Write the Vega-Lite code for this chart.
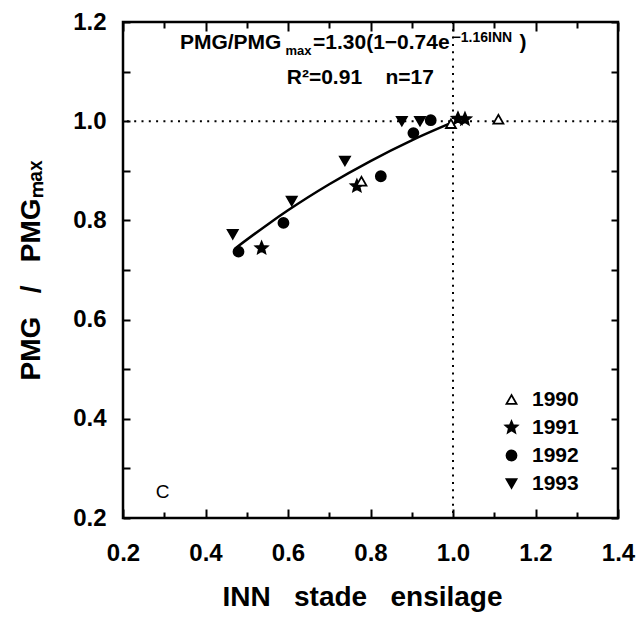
{
  "$schema": "https://vega.github.io/schema/vega-lite/v6.json",
  "width": 495,
  "height": 496,
  "autosize": {"type": "none"},
  "padding": {"left": 123, "top": 22, "right": 19, "bottom": 99},
  "background": "white",
  "config": {
    "view": {"stroke": "black", "strokeWidth": 2.5},
    "font": "Liberation Sans",
    "axis": {
      "domain": false, "grid": false, "ticks": true, "tickColor": "black", "tickWidth": 2,
      "labelColor": "black", "titleColor": "black",
      "labelFont": "Liberation Sans", "labelFontWeight": "bold", "labelFontSize": 24,
      "titleFont": "Liberation Sans", "titleFontWeight": "bold", "titleFontSize": 28,
      "labelFlush": false, "labelOverlap": false
    },
    "text": {"font": "Liberation Sans", "color": "black"}
  },
  "datasets": {
    "pts": [
      {"year": "1990", "inn": 0.995, "pmg": 0.995},
      {"year": "1990", "inn": 1.110, "pmg": 1.004},
      {"year": "1991", "inn": 0.536, "pmg": 0.744},
      {"year": "1991", "inn": 0.767, "pmg": 0.869},
      {"year": "1991", "inn": 1.012, "pmg": 1.005},
      {"year": "1991", "inn": 1.029, "pmg": 1.004},
      {"year": "1992", "inn": 0.480, "pmg": 0.737},
      {"year": "1992", "inn": 0.589, "pmg": 0.795},
      {"year": "1992", "inn": 0.825, "pmg": 0.889},
      {"year": "1992", "inn": 0.904, "pmg": 0.976},
      {"year": "1992", "inn": 0.946, "pmg": 1.002},
      {"year": "1993", "inn": 0.466, "pmg": 0.772},
      {"year": "1993", "inn": 0.609, "pmg": 0.839},
      {"year": "1993", "inn": 0.738, "pmg": 0.920},
      {"year": "1993", "inn": 0.876, "pmg": 1.000},
      {"year": "1993", "inn": 0.920, "pmg": 1.000},
      {"year": "1990", "inn": 0.778, "pmg": 0.879}
    ],
    "fit": [
      {"inn": 0.475, "pmg": 0.7455},
      {"inn": 0.55, "pmg": 0.7914},
      {"inn": 0.6, "pmg": 0.8203},
      {"inn": 0.7, "pmg": 0.8729},
      {"inn": 0.8, "pmg": 0.9197},
      {"inn": 0.9, "pmg": 0.9614},
      {"inn": 1.0, "pmg": 0.998}
    ],
    "hline": [{"v": 1.0}],
    "vline": [{"v": 1.0}],
    "main": [
      {"t": "PMG/PMG", "inn": 0.338, "pmg": 1.145},
      {"t": "=1.30(1−0.74e", "inn": 0.6606, "pmg": 1.145},
      {"t": ")", "inn": 1.161, "pmg": 1.145},
      {"t": "R²=0.91\u00a0\u00a0\u00a0\u00a0n=17", "inn": 0.597, "pmg": 1.076}
    ],
    "sub": [{"t": "max", "inn": 0.594, "pmg": 1.1335}],
    "sup": [{"t": "−1.16INN", "inn": 0.999, "pmg": 1.1597}],
    "panel": [{"t": "C", "inn": 0.296, "pmg": 0.240}]
  },
  "resolve": {"axis": {"x": "independent", "y": "independent"}},
  "layer": [
    {
      "data": {"name": "hline"},
      "mark": {"type": "rule", "color": "black", "strokeWidth": 2, "strokeDash": [2, 5.3]},
      "encoding": {
        "y": {"field": "v", "type": "quantitative", "scale": {"domain": [0.2, 1.2], "nice": false, "zero": false}, "axis": null}
      }
    },
    {
      "data": {"name": "vline"},
      "mark": {"type": "rule", "color": "black", "strokeWidth": 2, "strokeDash": [2, 5.3]},
      "encoding": {
        "x": {"field": "v", "type": "quantitative", "scale": {"domain": [0.2, 1.4], "nice": false, "zero": false}, "axis": null}
      }
    },
    {
      "data": {"name": "fit"},
      "mark": {"type": "line", "color": "black", "strokeWidth": 2.5, "interpolate": "monotone"},
      "encoding": {
        "x": {"field": "inn", "type": "quantitative", "scale": {"domain": [0.2, 1.4], "nice": false, "zero": false}, "axis": null},
        "y": {"field": "pmg", "type": "quantitative", "scale": {"domain": [0.2, 1.2], "nice": false, "zero": false}, "axis": null}
      }
    },
    {
      "data": {"name": "pts"},
      "mark": {"type": "point", "filled": true, "strokeWidth": 1.8, "opacity": 1, "size": 100},
      "encoding": {
        "x": {
          "field": "inn", "type": "quantitative",
          "scale": {"domain": [0.2, 1.4], "nice": false, "zero": false},
          "axis": {
            "orient": "bottom",
            "values": [0.2, 0.4, 0.6, 0.8, 1.0, 1.2, 1.4],
            "tickSize": 9,
            "offset": -9,
            "tickColor": "black",
            "tickWidth": 2,
            "format": ".1f",
            "labelPadding": 23,
            "title": "INN\u00a0\u00a0\u00a0stade\u00a0\u00a0\u00a0ensilage",
            "titleX": 239,
            "titlePadding": 18
          }
        },
        "y": {
          "field": "pmg", "type": "quantitative",
          "scale": {"domain": [0.2, 1.2], "nice": false, "zero": false},
          "axis": {
            "orient": "left",
            "values": [0.2, 0.3, 0.4, 0.5, 0.6, 0.7, 0.8, 0.9, 1.0, 1.1, 1.2],
            "tickSize": 7,
            "offset": -7,
            "tickColor": "black",
            "tickWidth": 2,
            "labelExpr": "round(datum.value*10)%2==0 ? format(datum.value,'.1f') : ''",
            "labelPadding": 17,
            "title": "PMG\u00a0\u00a0\u00a0/\u00a0\u00a0\u00a0PMGₘₐₓ",
            "titlePadding": 27
          }
        },
        "shape": {
          "field": "year", "type": "nominal",
          "scale": {"domain": ["1990", "1991", "1992", "1993"], "range": ["triangle-up", "M0,-1.25L0.331,-0.455L1.189,-0.386L0.535,0.174L0.735,1.011L0,0.563L-0.735,1.011L-0.535,0.174L-1.189,-0.386L-0.331,-0.455Z", "circle", "triangle-down"]},
          "legend": {"orient": "none", "legendX": 378, "legendY": 367, "title": null, "labelFont": "Liberation Sans", "labelFontWeight": "bold", "labelFontSize": 21, "labelColor": "black", "symbolSize": 100, "symbolStrokeWidth": 1.8, "rowPadding": 6, "labelOffset": 10, "padding": 0}
        },
        "fill": {
          "field": "year", "type": "nominal",
          "scale": {"domain": ["1990", "1991", "1992", "1993"], "range": ["white", "black", "black", "black"]},
          "legend": {"orient": "none", "legendX": 378, "legendY": 367, "title": null, "labelFont": "Liberation Sans", "labelFontWeight": "bold", "labelFontSize": 21, "labelColor": "black", "symbolSize": 100, "symbolStrokeWidth": 1.8, "rowPadding": 6, "labelOffset": 10, "padding": 0}
        },
        "stroke": {
          "field": "year", "type": "nominal",
          "scale": {"domain": ["1990", "1991", "1992", "1993"], "range": ["black", "black", "black", "black"]},
          "legend": {"orient": "none", "legendX": 378, "legendY": 367, "title": null, "labelFont": "Liberation Sans", "labelFontWeight": "bold", "labelFontSize": 21, "labelColor": "black", "symbolSize": 100, "symbolStrokeWidth": 1.8, "rowPadding": 6, "labelOffset": 10, "padding": 0}
        }
      }
    },
    {
      "data": {"name": "main"},
      "mark": {"type": "text", "fontSize": 21, "fontWeight": "bold", "align": "left", "baseline": "alphabetic", "color": "black"},
      "encoding": {
        "x": {"field": "inn", "type": "quantitative", "scale": {"domain": [0.2, 1.4], "nice": false, "zero": false}, "axis": null},
        "y": {"field": "pmg", "type": "quantitative", "scale": {"domain": [0.2, 1.2], "nice": false, "zero": false}, "axis": null},
        "text": {"field": "t"}
      }
    },
    {
      "data": {"name": "sub"},
      "mark": {"type": "text", "fontSize": 13, "fontWeight": "bold", "align": "left", "baseline": "alphabetic", "color": "black"},
      "encoding": {
        "x": {"field": "inn", "type": "quantitative", "scale": {"domain": [0.2, 1.4], "nice": false, "zero": false}, "axis": null},
        "y": {"field": "pmg", "type": "quantitative", "scale": {"domain": [0.2, 1.2], "nice": false, "zero": false}, "axis": null},
        "text": {"field": "t"}
      }
    },
    {
      "data": {"name": "sup"},
      "mark": {"type": "text", "fontSize": 14, "fontWeight": "bold", "align": "left", "baseline": "alphabetic", "color": "black"},
      "encoding": {
        "x": {"field": "inn", "type": "quantitative", "scale": {"domain": [0.2, 1.4], "nice": false, "zero": false}, "axis": null},
        "y": {"field": "pmg", "type": "quantitative", "scale": {"domain": [0.2, 1.2], "nice": false, "zero": false}, "axis": null},
        "text": {"field": "t"}
      }
    },
    {
      "data": {"name": "panel"},
      "mark": {"type": "text", "fontSize": 19, "fontWeight": "normal", "align": "center", "baseline": "alphabetic", "color": "black"},
      "encoding": {
        "x": {"field": "inn", "type": "quantitative", "scale": {"domain": [0.2, 1.4], "nice": false, "zero": false}, "axis": null},
        "y": {"field": "pmg", "type": "quantitative", "scale": {"domain": [0.2, 1.2], "nice": false, "zero": false}, "axis": null},
        "text": {"field": "t"}
      }
    },
    {
      "data": {"name": "pts"},
      "mark": {"type": "point", "opacity": 0},
      "encoding": {
        "x": {
          "field": "inn", "type": "quantitative",
          "scale": {"domain": [0.2, 1.4], "nice": false, "zero": false},
          "axis": {"orient": "top", "values": [0.2, 0.4, 0.6, 0.8, 1.0, 1.2, 1.4], "tickSize": 9, "offset": -9, "tickColor": "black", "tickWidth": 2, "labels": false, "title": null}
        },
        "y": {
          "field": "pmg", "type": "quantitative",
          "scale": {"domain": [0.2, 1.2], "nice": false, "zero": false},
          "axis": {"orient": "right", "values": [0.2, 0.3, 0.4, 0.5, 0.6, 0.7, 0.8, 0.9, 1.0, 1.1, 1.2], "tickSize": 7, "offset": -7, "tickColor": "black", "tickWidth": 2, "labels": false, "title": null}
        }
      }
    },
    {
      "data": {"name": "pts"},
      "mark": {"type": "point", "opacity": 0},
      "encoding": {
        "x": {
          "field": "inn", "type": "quantitative",
          "scale": {"domain": [0.2, 1.4], "nice": false, "zero": false},
          "axis": {"orient": "bottom", "values": [0.3, 0.5, 0.7, 0.9, 1.1, 1.3], "tickSize": 6, "offset": -6, "tickColor": "black", "tickWidth": 2, "labels": false, "title": null}
        },
        "y": {"field": "pmg", "type": "quantitative", "scale": {"domain": [0.2, 1.2], "nice": false, "zero": false}, "axis": null}
      }
    },
    {
      "data": {"name": "pts"},
      "mark": {"type": "point", "opacity": 0},
      "encoding": {
        "x": {
          "field": "inn", "type": "quantitative",
          "scale": {"domain": [0.2, 1.4], "nice": false, "zero": false},
          "axis": {"orient": "top", "values": [0.3, 0.5, 0.7, 0.9, 1.1, 1.3], "tickSize": 6, "offset": -6, "tickColor": "black", "tickWidth": 2, "labels": false, "title": null}
        },
        "y": {"field": "pmg", "type": "quantitative", "scale": {"domain": [0.2, 1.2], "nice": false, "zero": false}, "axis": null}
      }
    }
  ]
}
